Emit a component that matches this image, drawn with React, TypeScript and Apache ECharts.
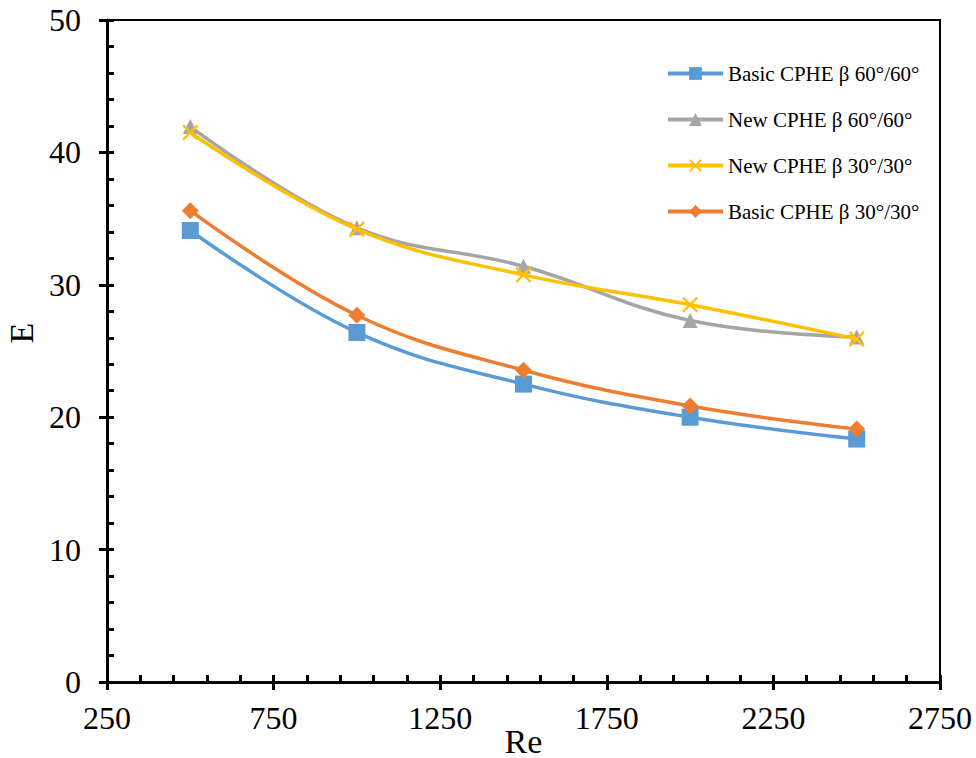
import React, { useEffect, useRef } from "react";
import * as echarts from "echarts";

const reValues = [500, 1000, 1500, 2000, 2500];
const basic60 = [34.1, 26.4, 22.5, 20.0, 18.35];
const new60 = [41.95, 34.3, 31.4, 27.3, 26.05];
const new30 = [41.5, 34.2, 30.75, 28.5, 25.9];
const basic30 = [35.6, 27.7, 23.55, 20.85, 19.1];

const seriesNames = [
  "Basic CPHE β 60°/60°",
  "New CPHE β 60°/60°",
  "New CPHE β 30°/30°",
  "Basic CPHE β 30°/30°",
];
const colors = ["#5B9BD5", "#A5A5A5", "#FFC000", "#ED7D31"];

const crossPath =
  "path://M0,2L2,0L10,8L18,0L20,2L12,10L20,18L18,20L10,12L2,20L0,18L8,10Z";

const FONT = "'Liberation Serif', 'Times New Roman', serif";

export default function App() {
  const ref = useRef<HTMLDivElement>(null);
  useEffect(() => {
    if (!ref.current) return;
    const chart = echarts.init(ref.current, null, { renderer: "svg" });
    const pair = (ys: number[]) => reValues.map((x, i) => [x, ys[i]]);
    const datasets = [basic60, new60, new30, basic30];
    const symbols = ["rect", "triangle", crossPath, "diamond"];
    const sizes = [17, 15, 16, 17];
    const fmt = (v: number) => String(v);
    chart.setOption({
      animation: false,
      backgroundColor: "#ffffff",
      textStyle: { fontFamily: FONT },
      grid: {
        left: 107,
        right: 36,
        top: 20,
        bottom: 76,
        containLabel: false,
        outerBoundsMode: "none",
        show: true,
        borderColor: "#000",
        borderWidth: 2,
        backgroundColor: "transparent",
      },
      legend: {
        orient: "vertical",
        left: 661,
        top: 58,
        itemWidth: 55,
        itemHeight: 16,
        itemGap: 25,
        lineStyle: { width: 4 },
        textStyle: { fontFamily: FONT, fontSize: 21, color: "#000", lineHeight: 21 },
        data: seriesNames,
      },
      xAxis: [
        {
          type: "value",
          min: 250,
          max: 2750,
          interval: 500,
          position: "bottom",
          name: "Re",
          nameLocation: "middle",
          nameGap: 42,
          nameMoveOverlap: false,
          nameTextStyle: { fontFamily: FONT, fontSize: 34, color: "#000" },
          axisLine: { show: true, lineStyle: { color: "#000", width: 3 } },
          axisTick: { show: true, inside: true, length: 7, lineStyle: { color: "#000", width: 3 } },
          minorTick: { show: true, splitNumber: 5, length: 7, lineStyle: { color: "#000", width: 3 } },
          axisLabel: { fontFamily: FONT, fontSize: 32, color: "#000", margin: 20, formatter: fmt },
          splitLine: { show: false },
        },
        {
          type: "value",
          min: 250,
          max: 2750,
          interval: 500,
          position: "bottom",
          axisLine: { show: false },
          axisTick: { show: true, inside: false, length: 8, lineStyle: { color: "#000", width: 3 } },
          axisLabel: { show: false },
          splitLine: { show: false },
        },
      ],
      yAxis: [
        {
          type: "value",
          min: 0,
          max: 50,
          interval: 10,
          position: "left",
          name: "E",
          nameLocation: "middle",
          nameGap: 62,
          nameTextStyle: { fontFamily: FONT, fontSize: 34, color: "#000", padding: [0, 0, 0, 36] },
          axisLine: { show: true, lineStyle: { color: "#000", width: 3 } },
          axisTick: { show: true, inside: true, length: 7, lineStyle: { color: "#000", width: 3 } },
          minorTick: { show: true, splitNumber: 5, length: 7, lineStyle: { color: "#000", width: 3 } },
          axisLabel: { fontFamily: FONT, fontSize: 32, color: "#000", margin: 26, formatter: fmt },
          splitLine: { show: false },
        },
        {
          type: "value",
          min: 0,
          max: 50,
          interval: 10,
          position: "left",
          offset: 0,
          axisLine: { show: false },
          axisTick: { show: true, inside: false, length: 8, lineStyle: { color: "#000", width: 3 } },
          axisLabel: { show: false },
          splitLine: { show: false },
        },
      ],
      series: datasets.map((d, i) => ({
        name: seriesNames[i],
        type: "line",
        xAxisIndex: 0,
        yAxisIndex: 0,
        data: pair(d),
        smooth: 0.4,
        symbol: symbols[i],
        symbolSize: sizes[i],
        showSymbol: true,
        color: colors[i],
        lineStyle: { color: colors[i], width: 3.5 },
        itemStyle: { color: colors[i], borderWidth: 0 },
        z: 2 + (i === 2 ? 1 : 0),
      })),
    });
    return () => chart.dispose();
  }, []);
  return (
    <div
      ref={ref}
      style={{ position: "fixed", left: 0, top: 0, width: 976, height: 758 }}
    />
  );
}
